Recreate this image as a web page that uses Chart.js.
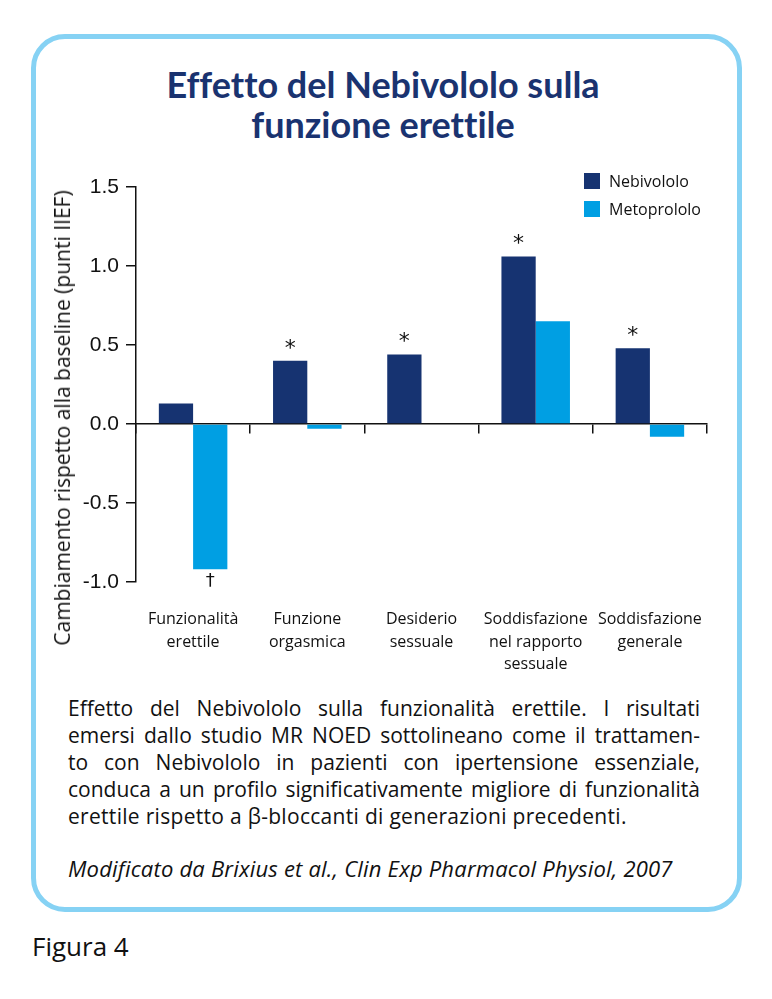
<!DOCTYPE html>
<html>
<head>
<meta charset="utf-8">
<script src="https://cdn.jsdelivr.net/npm/chart.js@4.4.0/dist/chart.umd.min.js"></script>
<style>
body { margin: 0; background: #fff; width: 772px; height: 999px; position: relative; font-family: 'Open Sans', 'Liberation Sans', Arial, sans-serif; color: #111; }
#frame { position: absolute; left: 31px; top: 34px; width: 701px; height: 868px; border: 5px solid #86d2f4; border-radius: 34px; }
#title { position: absolute; left: 0; top: 64px; width: 766px; text-align: center; font-family: Lato, sans-serif; font-weight: 700; font-size: 36px; line-height: 40px; color: #1a3370; font-variant-ligatures: none; }
#chartbox { position: absolute; left: 40px; top: 160px; width: 690px; height: 520px; }
#ytitle { position: absolute; left: 62px; top: 418px; transform: translate(-50%, -50%) rotate(-90deg); white-space: nowrap; font-size: 21px; }
#legend { position: absolute; left: 584px; top: 173px; font-size: 16px; }
.item { position: relative; height: 28px; }
.sw { position: absolute; left: 0; top: 0; width: 16px; height: 16px; }
.lb { position: absolute; left: 25px; top: -2px; line-height: 20px; white-space: nowrap; }
#caption { position: absolute; left: 68px; top: 695px; width: 632px; font-size: 21px; line-height: 27px; }
#caption .ln { text-align: justify; text-align-last: justify; white-space: nowrap; }
#caption .last { text-align: left; text-align-last: left; letter-spacing: 0.3px; }
#source { position: absolute; left: 68px; top: 853px; font-size: 22px; font-style: italic; white-space: nowrap; letter-spacing: 0.2px; }
#fig { position: absolute; left: 32px; top: 928px; font-size: 26px; }
</style>
</head>
<body>
<div id="frame"></div>
<div id="title">Effetto del Nebivololo sulla<br>funzione erettile</div>
<div id="chartbox"><canvas id="chart" width="690" height="520"></canvas></div>
<div id="ytitle">Cambiamento rispetto alla baseline (punti IIEF)</div>
<div id="legend"></div>
<div id="caption">
  <div class="ln">Effetto del Nebivololo sulla funzionalità erettile. I risultati</div>
  <div class="ln">emersi dallo studio MR NOED sottolineano come il trattamen-</div>
  <div class="ln">to con Nebivololo in pazienti con ipertensione essenziale,</div>
  <div class="ln">conduca a un profilo significativamente migliore di funzionalità</div>
  <div class="ln last">erettile rispetto a β-bloccanti di generazioni precedenti.</div>
</div>
<div id="source">Modificato da Brixius et al., Clin Exp Pharmacol Physiol, 2007</div>
<div id="fig">Figura 4</div>

<script>
// Data
const categories = [
  ['Funzionalità', 'erettile'],
  ['Funzione', 'orgasmica'],
  ['Desiderio', 'sessuale'],
  ['Soddisfazione', 'nel rapporto', 'sessuale'],
  ['Soddisfazione', 'generale']
]
const seriesNames = ['Nebivololo', 'Metoprololo']
const nebivololo = [0.13, 0.40, 0.44, 1.06, 0.48]
const metoprololo = [-0.92, -0.03, 0, 0.65, -0.08]
const nebiMarks = ['', '*', '*', '*', '*']     // p < 0.05
const metoMarks = ['†', '', '', '', '']
const yTicks = [-1.0, -0.5, 0.0, 0.5, 1.0, 1.5]

const colors = ['#163371', '#009fe3']
const marks = [nebiMarks, metoMarks]

// Legend (vertical, top right)
const legend = document.getElementById('legend')
seriesNames.forEach((name, i) => {
  const d = document.createElement('div')
  d.className = 'item'
  d.innerHTML = '<span class="sw" style="background:' + colors[i] + '"></span><span class="lb">' + name + '</span>'
  legend.appendChild(d)
})

// Draws * and † next to the bar ends
const marksPlugin = {
  id: 'marks',
  afterDatasetsDraw(chart) {
    const ctx = chart.ctx
    ctx.save()
    ctx.fillStyle = '#111'
    ctx.textAlign = 'center'
    ctx.textBaseline = 'middle'
    chart.data.datasets.forEach((ds, i) => {
      chart.getDatasetMeta(i).data.forEach((bar, j) => {
        const m = marks[i][j]
        if (!m) return
        const v = ds.data[j]
        if (m === '*') {
          ctx.font = '22px "DejaVu Sans"'
          ctx.fillText(m, bar.x, bar.y - 12)
        } else {
          ctx.font = '18px "DejaVu Sans"'
          ctx.fillText(m, bar.x, v < 0 ? bar.y + 12 : bar.y - 12)
        }
      })
    })
    ctx.restore()
  }
}

new Chart(document.getElementById('chart'), {
  type: 'bar',
  data: {
    labels: categories,
    datasets: [
      { label: seriesNames[0], data: nebivololo, backgroundColor: colors[0] },
      { label: seriesNames[1], data: metoprololo, backgroundColor: colors[1] }
    ]
  },
  options: {
    responsive: false,
    animation: false,
    devicePixelRatio: 1,
    layout: { padding: { top: 27, right: 23, left: 0, bottom: 0 } },
    plugins: { legend: { display: false }, tooltip: { enabled: false } },
    datasets: { bar: { barPercentage: 1, categoryPercentage: 0.6 } },
    scales: {
      x: {
        type: 'category',
        position: 'bottom',
        offset: true,
        grid: { display: false },
        border: { display: false },
        ticks: { color: '#111', padding: 18, maxRotation: 0, autoSkip: false, font: { family: "'Open Sans', sans-serif", size: 16, lineHeight: 1.42 } },
        afterFit: (s) => { s.height = 98 }
      },
      x0: {
        type: 'category',
        labels: categories,
        position: { y: 0 },
        offset: true,
        grid: { offset: true, drawOnChartArea: false, drawTicks: true, tickLength: 9, color: '#111', lineWidth: 1.5 },
        border: { display: true, color: '#111', width: 1.5 },
        ticks: { display: false }
      },
      y: {
        min: -1,
        max: 1.5,
        afterBuildTicks: (s) => { s.ticks = yTicks.map(v => ({ value: v })) },
        grid: { drawOnChartArea: false, drawTicks: true, tickLength: 10, color: '#111', lineWidth: 1.5 },
        border: { display: true, color: '#111', width: 1.5 },
        ticks: { color: '#111', padding: 7, font: { family: "'Liberation Sans', Arial, sans-serif", size: 21 }, callback: (v) => Number(v).toFixed(1) },
        afterFit: (s) => { s.width = 96 }
      }
    }
  },
  plugins: [marksPlugin]
})
</script>
</body>
</html>
